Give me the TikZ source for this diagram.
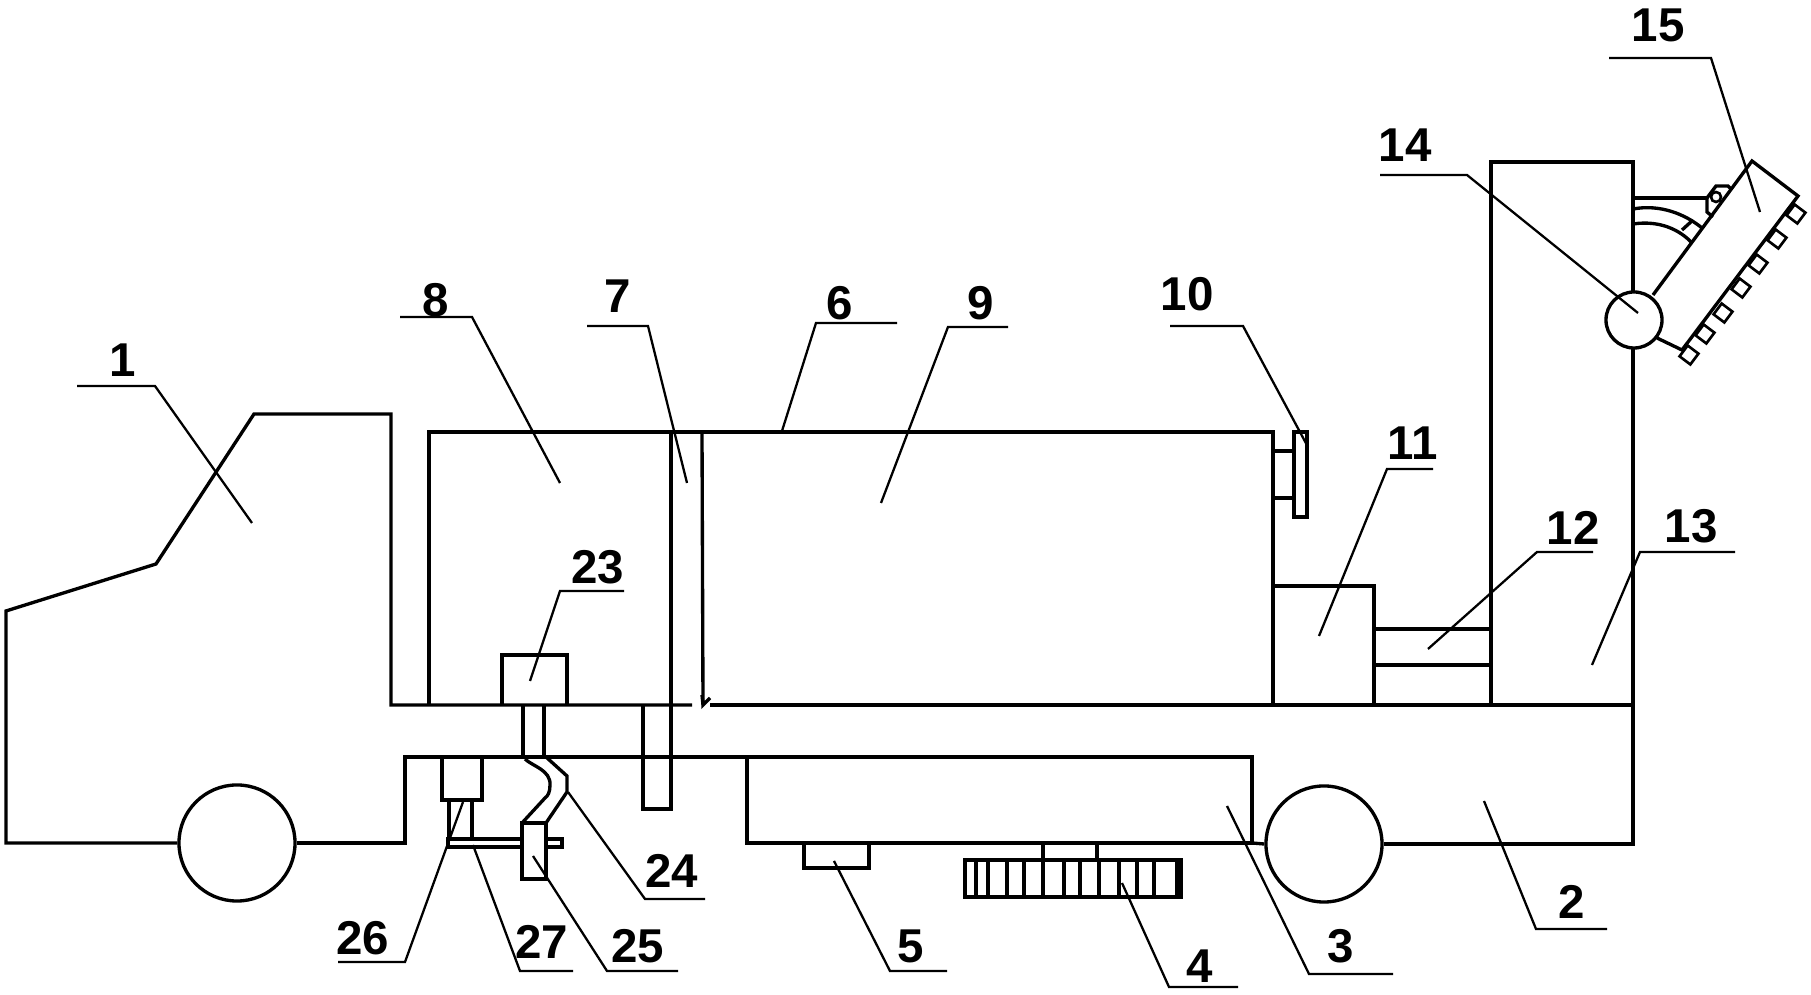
\documentclass[tikz,border=0pt]{standalone}
\usepackage{fontspec}
\setmainfont{Liberation Sans}
\tikzset{
  part/.style={draw=black,line width=0.95pt,line join=miter},
  leader/.style={draw=black,line width=0.65pt},
  num/.style={font=\fontsize{13.5}{15}\selectfont\bfseries,inner sep=0pt},
  wheel/.style={draw=black,line width=0.95pt,circle,minimum size=1.16cm,inner sep=0pt},
  pivot/.style={draw=black,line width=0.95pt,circle,minimum size=0.56cm,inner sep=0pt},
  nozzle/.style={draw=black,line width=0.75pt,rectangle,minimum size=0.135cm,inner sep=0pt}
}
\begin{document}
\begin{tikzpicture}[x=0.01cm,y=-0.01cm]
\useasboundingbox (0,0) rectangle (1811,995);
%
% wheels and pivot
\node[wheel] (wheelF) at (237,843) {};
\node[wheel] (wheelR) at (1324,844) {};
\node[pivot] (pivot) at (1634,320) {};
%
% cab, frame
\draw[part] (wheelF.west) -- (6,843) -- (6,611) -- (156,564) -- (254,414) -- (391,414) -- (391,705) -- (692,705);
\draw[part] (710,705) -- (1633,705);
\draw[part] (wheelF.east) -- (405,843) -- (405,757) -- (747,757);
\draw[part] (wheelR.east) -- (1633,844) -- (1633,349);
\draw[part] (1633,291) -- (1633,162) -- (1491,162) -- (1491,705);
%
% box under frame
\draw[part] (747,757) -- (1252,757) -- (1252,843) -- (747,843) -- cycle;
\draw[part] (1252,843) -- (wheelR.west);
\draw[part] (804,843) -- (804,868) -- (869,868) -- (869,843);
\draw[part] (1043,843) -- (1043,860);
\draw[part] (1097,843) -- (1097,860);
%
% brush
\draw[part] (965,860) rectangle (1181,897);
\draw[part] (976,860) -- (976,897) (988,860) -- (988,897) (1007,860) -- (1007,897) (1024,860) -- (1024,897);
\draw[part] (1043,860) -- (1043,897) (1064,860) -- (1064,897) (1080,860) -- (1080,897) (1099,860) -- (1099,897);
\draw[part] (1119,860) -- (1119,897) (1137,860) -- (1137,897) (1154,860) -- (1154,897) (1177,860) -- (1177,897);
%
% tank
\draw[part] (429,705) -- (429,432) -- (1273,432) -- (1273,705);
\draw[part] (671,432) -- (671,809) -- (643,809) -- (643,705);
\draw[part] (702,432) -- (703,705) -- (710,698);
\draw[part] (702,695) -- (703,705);
%
% plate, box, tube
\draw[part] (1294,432) rectangle (1307,517);
\draw[part] (1273,451) -- (1294,451);
\draw[part] (1273,498) -- (1294,498);
\draw[part] (1273,586) -- (1374,586) -- (1374,705);
\draw[part] (1374,629) -- (1491,629);
\draw[part] (1374,665) -- (1491,665);
%
% pump and pipe
\draw[part] (502,705) -- (502,655) -- (567,655) -- (567,705);
\draw[part] (523,705) -- (523,757);
\draw[part] (544,705) -- (544,757);
\draw[part] (525,759) .. controls (532,766) and (551,770) .. (550,785) .. controls (550,792) and (548,796) .. (545,798) -- (522,823);
\draw[part] (546,757) -- (567,776) -- (567,792) -- (546,823);
\draw[part] (522,823) rectangle (546,879);
%
% cylinder and rod
\draw[part] (442,757) -- (442,800) -- (482,800) -- (482,757);
\draw[part] (449,800) -- (449,839);
\draw[part] (472,800) -- (472,839);
\draw[part] (522,839) -- (448,839) -- (448,847) -- (522,847);
\draw[part] (546,839) -- (562,839) -- (562,847) -- (546,847);
%
% spray arm
\draw[part] (1653,295) -- (1752,161) -- (1798,196) -- (1682,350) -- (1657,338);
\node[nozzle,rotate=53] (nz1) at (1689,355) {};
\node[nozzle,rotate=53] (nz2) at (1705,334) {};
\node[nozzle,rotate=53] (nz3) at (1723,313) {};
\node[nozzle,rotate=53] (nz4) at (1741,288) {};
\node[nozzle,rotate=53] (nz5) at (1758,264) {};
\node[nozzle,rotate=53] (nz6) at (1777,239) {};
\node[nozzle,rotate=53] (nz7) at (1796,214) {};
\draw[part] (1633,198) -- (1707,198);
\draw[part] (1707,198) -- (1716,186) -- (1728,186) -- (1732,190);
\draw[part] (1707,198) -- (1707,212) -- (1713,217);
\node[draw=black,line width=0.75pt,circle,minimum size=0.1cm,inner sep=0pt] (hinge) at (1716,197) {};
\draw[part] (1633,209) .. controls (1660,204) and (1685,214) .. (1702,228);
\draw[part] (1633,224) .. controls (1660,220) and (1680,230) .. (1692,243);
\draw[part] (1682,230) -- (1693,220);
%
% numbers
\node[num] (n1) at (123,360) {1};
\node[num] (n2) at (1572,902) {2};
\node[num] (n3) at (1341,946) {3};
\node[num] (n4) at (1200,966) {4};
\node[num] (n5) at (911,946) {5};
\node[num] (n6) at (840,303) {6};
\node[num] (n7) at (618,296) {7};
\node[num] (n8) at (436,300) {8};
\node[num] (n9) at (981,303) {9};
\node[num] (n10) at (1187,294) {10};
\node[num] (n11) at (1413,443) {11};
\node[num] (n12) at (1573,528) {12};
\node[num] (n13) at (1691,526) {13};
\node[num] (n14) at (1405,145) {14};
\node[num] (n15) at (1658,25) {15};
\node[num] (n23) at (598,567) {23};
\node[num] (n24) at (672,871) {24};
\node[num] (n25) at (638,946) {25};
\node[num] (n26) at (363,938) {26};
\node[num] (n27) at (542,942) {27};
%
% leaders
\draw[leader] (77,386) -- (155,386) -- (252,523);
\draw[leader] (1607,929) -- (1536,929) -- (1484,801);
\draw[leader] (1393,974) -- (1309,974) -- (1227,806);
\draw[leader] (1238,987) -- (1169,987) -- (1122,883);
\draw[leader] (947,971) -- (890,971) -- (834,861);
\draw[leader] (897,323) -- (816,323) -- (782,431);
\draw[leader] (587,326) -- (648,326) -- (687,483);
\draw[leader] (400,317) -- (472,317) -- (560,483);
\draw[leader] (1008,327) -- (948,327) -- (881,503);
\draw[leader] (1170,326) -- (1243,326) -- (1308,447);
\draw[leader] (1433,469) -- (1387,469) -- (1319,636);
\draw[leader] (1593,552) -- (1537,552) -- (1428,649);
\draw[leader] (1735,552) -- (1640,552) -- (1592,665);
\draw[leader] (1380,175) -- (1467,175) -- (1638,313);
\draw[leader] (1609,58) -- (1711,58) -- (1760,212);
\draw[leader] (624,591) -- (560,591) -- (530,681);
\draw[leader] (705,899) -- (645,899) -- (568,792);
\draw[leader] (678,971) -- (607,971) -- (533,856);
\draw[leader] (338,962) -- (405,962) -- (463,802);
\draw[leader] (573,971) -- (520,971) -- (473,845);
\end{tikzpicture}
\end{document}
